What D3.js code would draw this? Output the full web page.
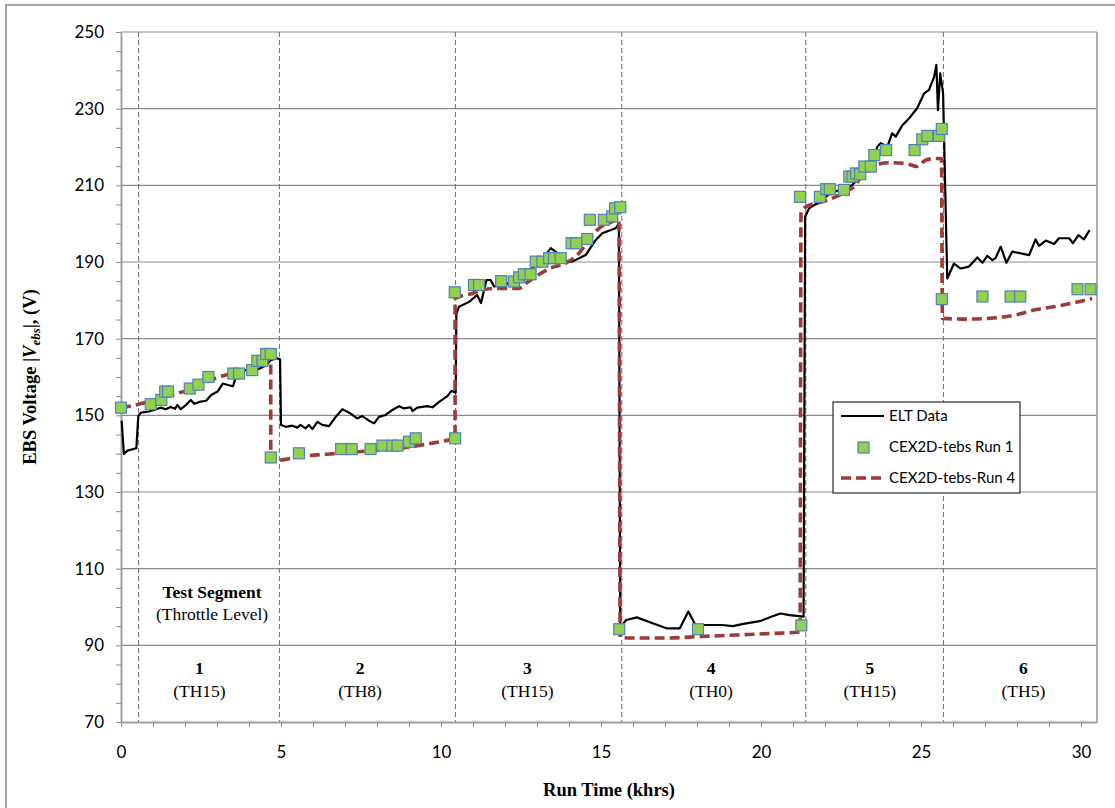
<!DOCTYPE html>
<html>
<head>
<meta charset="utf-8">
<script src="https://cdn.jsdelivr.net/npm/d3@7"></script>
<style>
  body { margin: 0; background: #fff; }
  svg { display: block; }
</style>
</head>
<body>
<svg id="chart" width="1115" height="808"></svg>
<script>
// ELT measured data (khrs, V)
const eltTime = [0.02, 0.09, 0.2, 0.48, 0.54, 0.62, 0.87, 1.03, 1.24, 1.4, 1.55, 1.69, 1.76, 1.87, 2.03, 2.18, 2.29, 2.45, 2.66, 2.82,
  3.03, 3.18, 3.34, 3.5, 3.61, 3.87, 4.13, 4.34, 4.55, 4.68, 4.87, 4.97, 5.0,
  5.15, 5.35, 5.51, 5.61, 5.77, 5.87, 5.98, 6.14, 6.29, 6.5, 6.71, 6.92, 7.13, 7.38, 7.54, 7.75, 7.91, 8.06, 8.27, 8.48, 8.69,
  8.84, 9.05, 9.11, 9.26, 9.57, 9.73, 9.94, 10.2, 10.33, 10.46, 10.48,
  10.56, 10.88, 11.13, 11.25, 11.42, 11.55, 11.66, 12.02, 12.44, 12.75, 13.06, 13.43, 13.58, 13.95, 14.1, 14.52, 14.83, 15.04,
  15.46, 15.56, 15.6,
  15.79, 16.12, 16.57, 17.07, 17.46, 17.73, 17.95, 18.23, 18.78, 19.12, 19.45, 20.0, 20.34, 20.61, 20.89, 21.33, 21.38,
  21.5, 21.71, 21.92, 22.02, 22.23, 22.54, 22.85, 23.17, 23.43, 23.64, 23.74, 23.95, 24.1, 24.21, 24.42, 24.63, 24.88, 25.1,
  25.25, 25.41, 25.48, 25.53, 25.6, 25.69, 25.82,
  26.03, 26.24, 26.5, 26.76, 26.92, 27.07, 27.23, 27.33, 27.49, 27.67, 27.85, 28.38, 28.58, 28.69, 28.9, 29.16, 29.31, 29.63,
  29.75, 29.92, 30.09, 30.27];
const eltVolt = [148.6, 139.9, 140.8, 141.4, 149.8, 150.7, 151.0, 151.4, 152.0, 151.6, 152.2, 151.7, 152.7, 151.6, 152.7, 154.0, 153.0, 153.5, 153.8, 155.3,
  156.3, 158.3, 157.9, 157.6, 160.5, 161.8, 161.8, 162.2, 163.1, 164.4, 164.9, 164.6, 147.5,
  147.0, 147.3, 146.8, 147.5, 146.6, 147.5, 146.4, 148.3, 147.5, 147.2, 149.6, 151.6, 150.7, 149.2, 149.8, 148.6, 147.9, 149.6, 150.1, 151.4, 152.4,
  151.8, 152.1, 151.1, 152.0, 152.4, 152.1, 153.5, 155.0, 156.4, 155.9, 176.5,
  178.3, 179.6, 181.4, 179.3, 185.3, 185.3, 183.6, 184.0, 186.6, 187.9, 189.6, 193.6, 192.7, 190.1, 190.1, 191.8, 195.7, 197.5,
  198.8, 200.1, 94.8,
  96.6, 97.3, 95.9, 94.4, 94.4, 98.8, 95.3, 95.3, 95.3, 95.0, 95.6, 96.4, 97.5, 98.3, 97.9, 97.5, 201.8,
  204.0, 205.1, 205.7, 207.0, 208.3, 208.8, 210.1, 212.7, 215.3, 220.1, 221.0, 220.1, 223.6, 222.7, 225.7, 227.5, 230.1, 234.0,
  234.9, 238.3, 241.4, 229.6, 239.2, 234.0, 185.7,
  189.6, 188.3, 188.8, 191.2, 189.8, 191.6, 190.5, 191.0, 194.0, 189.8, 192.7, 191.8, 195.9, 194.2, 195.6, 194.7, 196.2, 196.2,
  194.9, 197.0, 195.9, 198.3];

// CEX2D-tebs Run 1 (markers)
const run1Time = [0, 0.93, 1.26, 1.38, 1.47, 2.15, 2.42, 2.73, 3.51, 3.69, 4.1, 4.26, 4.42, 4.54, 4.68,
  4.68, 5.56, 6.88, 7.21, 7.8, 8.17, 8.48, 8.64, 9.0, 9.21, 10.44,
  10.43, 11.03, 11.19, 11.88, 12.28, 12.44, 12.59, 12.8, 12.96, 13.17, 13.38, 13.53, 13.74, 14.08, 14.23, 14.57, 14.65, 15.09, 15.35, 15.44, 15.6,
  15.57, 18.03, 21.26,
  21.22, 21.84, 22.04, 22.15, 22.59, 22.76, 22.86, 22.97, 23.1, 23.23, 23.43, 23.54, 23.91, 24.8, 25.04, 25.2, 25.56, 25.65,
  25.65, 26.92, 27.8, 28.1, 29.89, 30.3];
const run1Volt = [152, 152.9, 154, 156.2, 156.2, 157, 158, 160, 160.9, 160.9, 161.8, 164.2, 164.2, 166, 166,
  139, 140.1, 141.2, 141.2, 141.2, 142.1, 142.1, 142.1, 143.1, 144, 144,
  182.1, 184, 184, 185, 184.9, 186, 186.8, 186.8, 190.1, 190.1, 191, 191, 191, 194.9, 194.9, 196, 201, 201, 201.9, 204, 204.3,
  94.2, 94.2, 95.2,
  207, 207, 209, 209, 208.8, 212.3, 212.3, 213.1, 212.9, 214.9, 214.9, 217.9, 219.2, 219.2, 222, 222.9, 222.9, 224.7,
  180.3, 181, 181, 181, 182.9, 182.9];

// CEX2D-tebs-Run 4 (dashed)
const run4Time = [0, 0.46, 1.4, 2.23, 2.96, 3.48, 4.0, 4.47, 4.68,
  4.68, 4.94, 5.56, 6.81, 7.85, 8.69, 9.42, 10.15, 10.44,
  10.44, 10.98, 11.29, 11.6, 12.44, 12.65, 12.96, 13.48, 13.9, 14.31, 14.73, 14.94, 15.35, 15.56,
  15.6, 15.9, 17.01, 18.12, 19.23, 20.34, 21.22,
  21.25, 21.34, 21.6, 21.92, 22.33, 22.75, 22.96, 23.17, 23.58, 24.0, 24.52, 24.88, 25.15, 25.46, 25.64,
  25.67, 26.29, 27.13, 27.96, 28.6, 29.2, 29.8, 30.35];
const run4Volt = [152, 152.7, 154.9, 157, 159.7, 161, 162.3, 163.6, 164.9,
  138.3, 138.3, 139.2, 140.1, 140.8, 141.4, 142.3, 143.4, 144,
  180.5, 181.8, 182.7, 183.1, 183.1, 184.4, 186.2, 188.6, 189.7, 192.3, 197, 198.8, 200.5, 201.4,
  92.1, 91.9, 91.9, 92.3, 92.7, 93.1, 93.5,
  202.7, 204, 205.1, 205.7, 207, 208.8, 210.1, 213.1, 215.3, 215.9, 215.7, 214.9, 216.6, 217, 217,
  175.3, 175.1, 175.3, 176.2, 177.6, 178.4, 179.4, 180.5];

// test segments
const segBounds = [0.55, 4.95, 10.45, 15.65, 21.4, 25.7];
const segNames = ["1", "2", "3", "4", "5", "6"];
const segLevels = ["(TH15)", "(TH8)", "(TH15)", "(TH0)", "(TH15)", "(TH5)"];
const segCenters = [2.45, 7.47, 12.7, 18.44, 23.4, 28.2];

const seriesNames = ["ELT Data", "CEX2D-tebs Run 1", "CEX2D-tebs-Run 4"];

const svg = d3.select("#chart");
const margin = {top: 32, right: 18, bottom: 86, left: 121};
const W = 1115, H = 808;

const x = d3.scaleLinear().domain([0, 30.5]).range([margin.left, W - margin.right]);
const y = d3.scaleLinear().domain([70, 250]).range([H - margin.bottom, margin.top]);

const sans = "Lato, 'Open Sans', sans-serif";
const serif = "'Liberation Serif', 'Times New Roman', serif";
const elt = eltTime.map((t, i) => [t, eltVolt[i]]);
const run1 = run1Time.map((t, i) => [t, run1Volt[i]]);
const run4 = run4Time.map((t, i) => [t, run4Volt[i]]);

// outer frame (left and top edges visible)
svg.append("path")
    .attr("d", `M6,${H} L6,5 L${W},5`)
    .attr("fill", "none")
    .attr("stroke", "#a6a6a6")
    .attr("stroke-width", 2);

// horizontal grid
svg.append("g")
    .selectAll("line")
    .data(d3.range(90, 251, 20))
    .join("line")
    .attr("x1", x(0)).attr("x2", x(30.5))
    .attr("y1", d => y(d)).attr("y2", d => y(d))
    .attr("stroke", "#8c8c8c")
    .attr("stroke-width", 1.2);

// segment boundaries
svg.append("g")
    .selectAll("line")
    .data(segBounds)
    .join("line")
    .attr("x1", d => x(d)).attr("x2", d => x(d))
    .attr("y1", y(250)).attr("y2", y(70))
    .attr("stroke", "#6d6d6d")
    .attr("stroke-width", 1)
    .attr("stroke-dasharray", "5,3");

// plot frame right side
svg.append("line")
    .attr("x1", x(30.5)).attr("x2", x(30.5))
    .attr("y1", y(250)).attr("y2", y(70))
    .attr("stroke", "#b0b0b0")
    .attr("stroke-width", 2);

// axes
const xAxis = svg.append("g")
    .attr("transform", `translate(0,${y(70)})`)
    .call(d3.axisBottom(x).tickValues(d3.range(0, 31, 1)).tickSize(5).tickSizeOuter(0)
        .tickFormat(d => d % 5 === 0 ? d : ""));
xAxis.select(".domain").attr("stroke", "#a0a0a0").attr("stroke-width", 2);
xAxis.selectAll(".tick line").attr("stroke", "#8c8c8c");
xAxis.selectAll("text")
    .attr("y", 24)
    .style("font-family", sans)
    .style("font-size", "17px")
    .attr("fill", "#000");

const yAxis = svg.append("g")
    .attr("transform", `translate(${x(0)},0)`)
    .call(d3.axisLeft(y).tickValues(d3.range(70, 251, 5)).tickSize(5).tickSizeOuter(0)
        .tickFormat(d => (d - 70) % 20 === 0 ? d : ""));
yAxis.select(".domain").attr("stroke", "#a0a0a0").attr("stroke-width", 2);
yAxis.selectAll(".tick line").attr("stroke", "#8c8c8c");
yAxis.selectAll("text")
    .attr("x", -17)
    .style("font-family", sans)
    .style("font-size", "17px")
    .attr("fill", "#000");

// series
const line = d3.line().x(d => x(d[0])).y(d => y(d[1]));

svg.append("path")
    .datum(elt)
    .attr("d", line)
    .attr("fill", "none")
    .attr("stroke", "#000")
    .attr("stroke-width", 2.2)
    .attr("stroke-linejoin", "round");

svg.append("path")
    .datum(run4)
    .attr("d", line.curve(d3.curveMonotoneX))
    .attr("fill", "none")
    .attr("stroke", "#9e3a37")
    .attr("stroke-width", 3.6)
    .attr("stroke-dasharray", "10,5");

const sq = 11;
svg.append("g")
    .selectAll("rect")
    .data(run1)
    .join("rect")
    .attr("x", d => x(d[0]) - sq / 2)
    .attr("y", d => y(d[1]) - sq / 2)
    .attr("width", sq)
    .attr("height", sq)
    .attr("fill", "#92d050")
    .attr("stroke", "#4f81bd")
    .attr("stroke-width", 1.2);

// segment annotations
const ann = svg.append("g")
    .attr("font-family", serif)
    .attr("font-size", "17.5px")
    .attr("text-anchor", "middle");

ann.selectAll(".segnum")
    .data(segNames)
    .join("text")
    .attr("class", "segnum")
    .attr("x", (d, i) => x(segCenters[i]))
    .attr("y", 674)
    .attr("font-weight", "bold")
    .text(d => d);

ann.selectAll(".seglvl")
    .data(segLevels)
    .join("text")
    .attr("class", "seglvl")
    .attr("x", (d, i) => x(segCenters[i]))
    .attr("y", 697)
    .text(d => d);

ann.append("text")
    .attr("x", 212)
    .attr("y", 598)
    .attr("font-weight", "bold")
    .text("Test Segment");

ann.append("text")
    .attr("x", 212)
    .attr("y", 620)
    .text("(Throttle Level)");

// axis titles
svg.append("text")
    .attr("x", (x(0) + x(30.5)) / 2)
    .attr("y", 796)
    .attr("text-anchor", "middle")
    .attr("font-family", serif)
    .attr("font-size", "18.5px")
    .attr("font-weight", "bold")
    .text("Run Time  (khrs)");

const yt = svg.append("text")
    .attr("transform", `translate(36,${(y(70) + y(250)) / 2}) rotate(-90)`)
    .attr("text-anchor", "middle")
    .attr("font-family", serif)
    .attr("font-size", "18.5px")
    .attr("font-weight", "bold");
yt.append("tspan").text("EBS Voltage |");
yt.append("tspan").attr("font-style", "italic").text("V");
yt.append("tspan").attr("font-style", "italic").attr("font-size", "13px").attr("dy", 4).text("ebs");
yt.append("tspan").attr("dy", -4).text("|, (V)");

// legend
const lg = svg.append("g").attr("transform", "translate(833,402)");
lg.append("rect")
    .attr("width", 187)
    .attr("height", 91)
    .attr("fill", "#fff")
    .attr("stroke", "#000")
    .attr("stroke-width", 1);

const rows = lg.selectAll(".row")
    .data(seriesNames)
    .join("g")
    .attr("class", "row")
    .attr("transform", (d, i) => `translate(0,${14 + i * 31})`);

rows.append("text")
    .attr("x", 56)
    .attr("y", 5)
    .attr("font-family", sans)
    .attr("font-size", "15px")
    .text(d => d);

rows.filter((d, i) => i === 0).append("line")
    .attr("x1", 8).attr("x2", 51)
    .attr("stroke", "#000").attr("stroke-width", 2.2);
rows.filter((d, i) => i === 1).append("rect")
    .attr("x", 25).attr("y", -5).attr("width", sq).attr("height", sq)
    .attr("fill", "#92d050").attr("stroke", "#4f81bd").attr("stroke-width", 1.2);
rows.filter((d, i) => i === 2).append("line")
    .attr("x1", 8).attr("x2", 50)
    .attr("stroke", "#9e3a37").attr("stroke-width", 3.6).attr("stroke-dasharray", "10,5");
</script>
</body>
</html>
